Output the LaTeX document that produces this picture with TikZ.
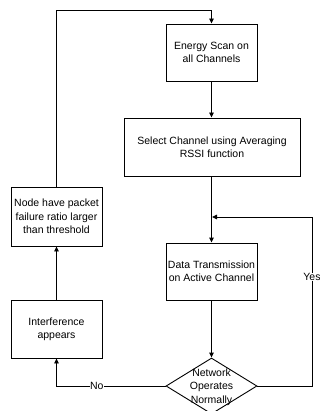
\documentclass[tikz,border=0pt]{standalone}
\usepackage{fontspec}
\setmainfont{Liberation Sans}
\usetikzlibrary{shapes.geometric,arrows.meta}
\begin{document}
\begin{tikzpicture}[x=1pt,y=-1pt,
  every node/.style={font=\fontsize{10.5}{13.3}\selectfont},
  box/.style={draw,line width=0.9pt,align=center,inner sep=0pt},
  flow/.style={line width=0.9pt,-{Triangle[length=5pt,width=4.5pt]}},
  plain/.style={line width=0.9pt},
  lbl/.style={fill=white,inner sep=0.5pt}]
\useasboundingbox (0,0) rectangle (320,411);
\clip (0,0) rectangle (320,411);
\node[box,minimum width=91pt,minimum height=57pt] (energy) at (211.5,52.5) {Energy Scan on\\all Channels};
\node[box,minimum width=176pt,minimum height=58pt] (select) at (212,147) {Select Channel using Averaging\\RSSI function};
\node[box,minimum width=91pt,minimum height=57pt] (data) at (211.5,271.5) {Data Transmission\\on Active Channel};
\node[draw,line width=0.9pt,shape=diamond,inner sep=0pt,minimum width=91pt,minimum height=56pt] (dec) at (211.5,386) {};
\node[align=center,inner sep=0pt] (dectext) at ([yshift=-1pt]dec.center) {Network\\Operates\\Normally};
\node[box,minimum width=91pt,minimum height=59pt] (fail) at (56.5,216.5) {Node have packet\\failure ratio larger\\than threshold};
\node[box,minimum width=91pt,minimum height=58pt] (intf) at (56.5,329) {Interference\\appears};
\coordinate (tl) at (fail.north |- 0,10);
\coordinate (tr) at (energy.north |- 0,10);
\coordinate (join) at (212,217);
\coordinate (rb) at (312,386);
\coordinate (rt) at (312,217);
\coordinate (lb) at (intf.south |- dec.west);
\draw[flow] (energy.south) -- (select.north -| energy.south);
\draw[flow] (select.south -| data.north) -- (data.north);
\draw[flow] (data.south) -- (dec.north);
\draw[flow] (fail.north) -- (tl) -- (tr) -- (energy.north);
\draw[flow] (intf.north) -- (fail.south);
\draw[flow] (dec.west) -- node[lbl,pos=0.63]{No} (lb) -- (intf.south);
\draw[flow] (dec.east) -- (rb) -- node[lbl,pos=0.645]{Yes} (rt) -- (join);
\end{tikzpicture}
\end{document}
